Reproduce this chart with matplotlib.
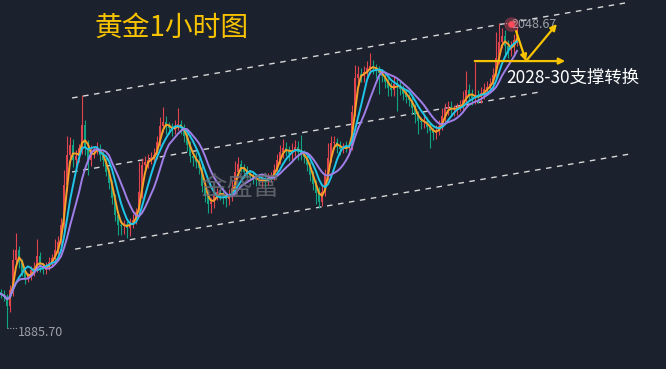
import numpy as np
import pandas as pd
import matplotlib
matplotlib.use("Agg")
import matplotlib.pyplot as plt

plt.rcParams['font.family'] = ['Noto Sans CJK SC', 'DejaVu Sans']

# hourly closes (gold)
closes = [
    1904.0, 1902.4, 1897.6, 1906.1, 1922.2, 1927.5, 1921.1, 1915.8, 1912.5, 1913.6,
    1916.8, 1917.9, 1924.3, 1919.0, 1916.8, 1919.0, 1921.1, 1923.2, 1927.5, 1931.8,
    1940.8, 1962.2, 1978.2, 1983.6, 1975.6, 1977.7, 1982.0, 1994.2, 1982.0, 1975.6,
    1979.8, 1980.9, 1982.0, 1978.2, 1975.6, 1969.2, 1963.3, 1955.3, 1946.2, 1940.8,
    1940.3, 1941.4, 1939.2, 1942.5, 1943.5, 1947.8, 1958.5, 1972.9, 1974.5, 1975.6,
    1976.6, 1978.2, 1985.2, 1993.7, 1995.9, 1993.7, 1992.6, 1991.6, 1993.7, 1994.8,
    1992.6, 1988.4, 1983.6, 1977.7, 1976.6, 1974.5, 1971.3, 1961.7, 1956.3, 1952.1,
    1953.1, 1956.3, 1958.5, 1957.4, 1956.3, 1954.7, 1956.9, 1960.6, 1969.2, 1973.4,
    1971.3, 1969.2, 1968.1, 1967.0, 1965.9, 1964.9, 1964.3, 1965.4, 1964.3, 1965.9,
    1967.0, 1970.2, 1975.6, 1979.8, 1982.0, 1980.9, 1978.8, 1980.9, 1982.5, 1979.8,
    1978.8, 1977.2, 1972.9, 1967.5, 1962.7, 1957.9, 1953.1, 1958.5, 1967.0, 1976.6,
    1984.6, 1985.2, 1982.5, 1981.4, 1982.5, 1982.0, 1983.0, 2001.2, 2019.3, 2021.5,
    2020.4, 2022.6, 2024.7, 2025.8, 2024.7, 2023.6, 2022.0, 2020.4, 2017.2, 2014.0,
    2012.9, 2016.1, 2015.6, 2013.5, 2010.8, 2009.2, 2007.6, 2003.3, 1999.6, 1996.4,
    1995.9, 1996.4, 1993.2, 1991.0, 1990.0, 1991.0, 1993.7, 1999.1, 2002.8, 2003.9,
    2002.3, 2002.8, 2003.9, 2004.4, 2007.6, 2012.9, 2010.3, 2008.7, 2010.0, 2009.2,
    2011.3, 2013.5, 2014.5, 2016.1, 2020.9, 2030.0, 2038.6, 2041.8, 2036.4, 2034.3,
    2035.9, 2039.6, 2045.0,
]

# wick length above / below the body
upper_wick = [
    1.5, 2, 1.5, 3, 6, 9, 2, 1.5, 2, 1.5,
    2, 3, 9, 2, 1.5, 2, 2.5, 2, 6, 3,
    4, 8, 10, 4, 3, 3, 2, 16, 3, 4,
    4, 2, 3, 2, 2, 1.5, 2, 1.5, 2, 2,
    3, 2, 1.5, 2, 3, 2, 16, 4, 3, 3,
    3, 4, 3, 5, 8, 3, 2, 3, 3, 8.5,
    2, 2, 1.5, 2, 2, 3, 2, 2, 1.5, 2,
    2, 3, 2, 2, 3, 2, 3, 4, 6, 4,
    2, 2, 3, 2, 2, 2, 3, 2, 2, 3,
    2, 3, 3, 4, 5, 3, 2, 4, 4, 3,
    9, 2, 2, 1.5, 2, 2, 3, 4, 4, 8,
    4, 3, 2, 3, 2, 3, 2, 4, 7, 4,
    3, 3, 4, 7, 3, 2, 2, 2, 1.5, 2,
    3, 4, 3, 2, 2, 2, 1.5, 2, 2, 2,
    2, 3, 2, 2, 2, 3, 3, 4, 3, 3,
    3, 2, 2, 3, 5, 10, 3, 3, 18, 3,
    3, 3, 3, 3, 4, 14, 10.07, 4.2, 3, 3,
    3, 3, 2,
]
lower_wick = [
    2, 2, 11.9, 3, 3, 2, 3, 2, 3, 2,
    2, 3, 2, 3, 2, 2, 2, 2, 3, 2,
    2, 3, 3, 4, 4, 3, 3, 3, 4, 8,
    3, 3, 2, 3, 3, 2, 3, 3, 3, 5,
    5, 4, 5, 4, 3, 2, 2, 3, 3, 3,
    2, 3, 2, 2, 3, 4, 3, 3, 2, 2,
    3, 3, 3, 3, 4, 3, 3, 3, 3, 5,
    5, 3, 2, 3, 4, 4, 3, 3, 2, 3,
    2, 3, 2, 2, 3, 3, 2, 3, 3, 2,
    2, 2, 2, 2, 3, 3, 4, 3, 3, 4,
    3, 3, 3, 3, 3, 6, 3, 2, 2, 2,
    2, 3, 3, 3, 2, 2, 2, 2, 2, 3,
    3, 3, 3, 3, 3, 4, 11, 3, 3, 4,
    3, 3, 14, 3, 3, 3, 3, 3, 4, 7,
    4, 3, 3, 9, 4, 3, 2, 2, 3, 3,
    3, 3, 3, 2, 2, 3, 3, 4, 3, 3,
    3, 3, 3, 2, 2, 2, 3, 3, 6, 4,
    3, 3, 3,
]

ma_windows = [3, 6, 10]

# channel lines: (start idx, start price, end idx, end price)
channel_top = [23.7, 2008.7, 208.0, 2059.4]
channel_mid = [23.7, 1969.2, 179.7, 2011.9]
channel_bot = [24.7, 1928.0, 209.7, 1978.8]

support_level = 2028.4
support_span = [157, 189]
swing_path = [(171.7, 2044.4), (175.0, 2028.4), (185.3, 2048.2)]

low_price = 1885.70
high_price = 2048.67

# --- build candles
df = pd.DataFrame({'close': closes})
df['open'] = df['close'].shift(1).fillna(df['close'].iloc[0] + 1.0)
df['high'] = df[['open', 'close']].max(axis=1) + np.array(upper_wick)
df['low'] = df[['open', 'close']].min(axis=1) - np.array(lower_wick)
idx = np.arange(len(df))

bg = '#1b212d'
up_col = '#e0444f'
dn_col = '#12a383'
gold = '#f7c300'

fig = plt.figure(figsize=(6.66, 3.69), dpi=100, facecolor=bg)
ax = fig.add_axes([0, 0, 1, 1], facecolor=bg)
ax.set_xlim(-1 / 3, 221.67)
ax.set_ylim(1864.0, 2061.0)
ax.axis('off')

# channel
for ln in (channel_top, channel_mid, channel_bot):
    ax.plot([ln[0], ln[2]], [ln[1], ln[3]], color='#d8d8d8', lw=1.0,
            ls=(0, (4, 4)), zorder=1)

# candles
colors = np.where(df['close'] >= df['open'], up_col, dn_col)
ax.vlines(idx, df['low'], df['high'], colors=colors, lw=0.8, zorder=2)
body_bottom = df[['open', 'close']].min(axis=1)
body_h = (df['close'] - df['open']).abs().clip(lower=0.4)
ax.bar(idx, body_h, bottom=body_bottom, width=0.7, color=colors, zorder=2)

# moving averages
ma_colors = ['#f7a128', '#1fc6e8', '#a07fe8']
for w, c in zip(ma_windows, ma_colors):
    ax.plot(idx, df['close'].rolling(w, min_periods=1).mean(), color=c,
            lw=1.4, zorder=3)

# watermark
ax.text(79.7, 1961.0, '金盛富', color='#6a6e75', fontsize=19, alpha=0.8,
        ha='center', va='center', zorder=4)

# min / max labels
lo_i = int(df['low'].idxmin())
ax.plot([lo_i, lo_i + 3.3], [low_price, low_price], color='#a0a4aa', lw=0.8,
        ls=(0, (1, 1.5)), zorder=4)
ax.text(lo_i + 3.6, low_price - 2.0, f'{low_price:.2f}', color='#9da2a9',
        fontsize=9, ha='left', va='center', zorder=4)

hi_i = int(df['high'].idxmax())
ax.plot([hi_i + 0.3, hi_i + 4.0], [high_price, high_price], color='#a0a4aa',
        lw=0.8, ls=(0, (1, 1.5)), zorder=4)
ax.text(hi_i + 4.3, high_price - 0.8, f'{high_price:.2f}', color='#9da2a9',
        fontsize=9, ha='left', va='center', zorder=4)
ax.scatter([hi_i + 4.0], [high_price - 0.4], s=110, color='#ff5060', alpha=0.35,
           lw=0, zorder=5)
ax.scatter([hi_i + 4.0], [high_price - 0.4], s=22, color='#ff4a5a', lw=0, zorder=5)

# support annotation
ax.annotate('', xy=(support_span[1], support_level),
            xytext=(support_span[0], support_level),
            arrowprops=dict(arrowstyle='-|>', color=gold, lw=1.6,
                            mutation_scale=9), zorder=6)
ax.annotate('', xy=swing_path[1], xytext=swing_path[0],
            arrowprops=dict(arrowstyle='-|>', color=gold, lw=1.6,
                            mutation_scale=9, shrinkA=0, shrinkB=0), zorder=6)
ax.annotate('', xy=swing_path[2], xytext=swing_path[1],
            arrowprops=dict(arrowstyle='-|>', color=gold, lw=1.6,
                            mutation_scale=9, shrinkA=0, shrinkB=0), zorder=6)
ax.text(168.3, 2019.6, '2028-30支撑转换', color='white', fontsize=12.5,
        ha='left', va='center', zorder=6)

fig.text(0.257, 0.924, '黄金1小时图', color=gold, fontsize=20,
         ha='center', va='center')

fig.savefig('out.png', dpi=100, facecolor=bg)
